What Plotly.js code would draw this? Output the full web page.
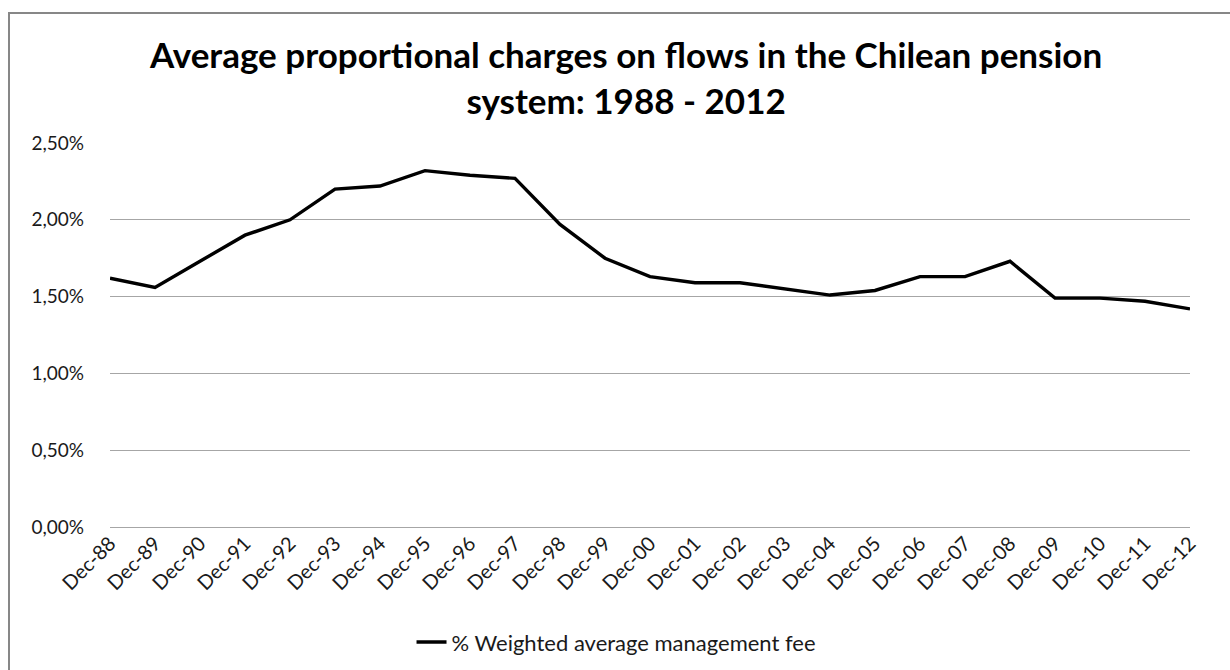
<!DOCTYPE html>
<html>
<head>
<meta charset="utf-8">
<script src="https://cdn.plot.ly/plotly-3.0.1.min.js"></script>
<style>
html,body{margin:0;padding:0;background:#fff;}
#chart{width:1230px;height:670px;}
</style>
</head>
<body>
<div id="chart"></div>
<script>
const categories = ["Dec-88","Dec-89","Dec-90","Dec-91","Dec-92","Dec-93","Dec-94","Dec-95","Dec-96","Dec-97","Dec-98","Dec-99","Dec-00","Dec-01","Dec-02","Dec-03","Dec-04","Dec-05","Dec-06","Dec-07","Dec-08","Dec-09","Dec-10","Dec-11","Dec-12"];
const feeValues = [0.0162,0.0156,0.0173,0.0190,0.0200,0.0220,0.0222,0.0232,0.0229,0.0227,0.0197,0.0175,0.0163,0.0159,0.0159,0.0155,0.0151,0.0154,0.0163,0.0163,0.0173,0.0149,0.0149,0.0147,0.0142];
const seriesName = "% Weighted average management fee";
const titleText = "Average proportional charges on flows in the Chilean pension<br>system: 1988 - 2012";

const FONT = "Lato, 'Open Sans', sans-serif";

const trace = {
  x: categories,
  y: feeValues,
  type: "scatter",
  mode: "lines",
  name: seriesName,
  line: {color: "#000000", width: 3.4},
  hoverinfo: "x+y"
};

const layout = {
  width: 1230,
  height: 670,
  paper_bgcolor: "#ffffff",
  plot_bgcolor: "#ffffff",
  separators: ",.",
  margin: {l: 110, r: 40, t: 143, b: 143, autoexpand: false},
  title: {
    text: titleText,
    font: {family: FONT, size: 35, color: "#000000", weight: "bold"},
    x: 0.509,
    xanchor: "center",
    xref: "container",
    y: 1 - 68/670,
    yanchor: "middle",
    yref: "container"
  },
  showlegend: true,
  legend: {
    orientation: "h",
    x: 0.469,
    xanchor: "center",
    y: -0.30,
    yanchor: "middle",
    font: {family: FONT, size: 22, color: "#1a1a1a"},
    bgcolor: "rgba(0,0,0,0)"
  },
  xaxis: {
    type: "category",
    range: [0, 24],
    automargin: false,
    showgrid: false,
    zeroline: false,
    showline: false,
    ticks: "",
    tickangle: -45,
    tickfont: {family: FONT, size: 20, color: "#1a1a1a"},
    fixedrange: true
  },
  yaxis: {
    range: [0, 0.025],
    automargin: false,
    dtick: 0.005,
    tick0: 0,
    tickformat: ".2%",
    showgrid: true,
    gridcolor: "#a6a6a6",
    gridwidth: 1,
    zeroline: true,
    zerolinecolor: "#a6a6a6",
    zerolinewidth: 1,
    showline: false,
    ticks: "",
    ticklabelstandoff: 25,
    tickfont: {family: FONT, size: 19, color: "#1a1a1a"},
    fixedrange: true
  },
  shapes: [{
    type: "rect",
    xref: "paper", yref: "paper",
    x0: (9-110)/1080, x1: (1245-110)/1080,
    y0: (527-700)/384, y1: (527-13)/384,
    line: {color: "#878787", width: 2},
    fillcolor: "rgba(0,0,0,0)",
    layer: "below"
  }]
};

Plotly.newPlot("chart", [trace], layout, {displayModeBar: false});
</script>
</body>
</html>
